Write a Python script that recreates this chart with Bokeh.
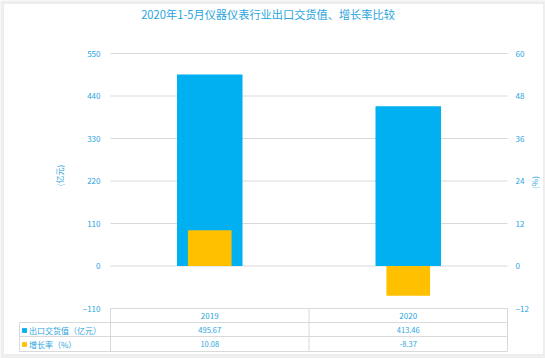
from math import pi
from bokeh.plotting import figure
from bokeh.models import (Range1d, LinearAxis, FixedTicker, Legend, LegendItem, Label,
                          BoxAnnotation)
from bokeh.core.properties import value
from bokeh.embed import file_html
from bokeh.resources import INLINE

# ---------------- data ----------------
years = ["2019", "2020"]
export_value = [495.67, 413.46]          # 出口交货值（亿元）
growth_rate = [10.08, -8.37]             # 增长率（%）
left_ticks = [-110, 0, 110, 220, 330, 440, 550]
right_ticks = [-12, 0, 12, 24, 36, 48, 60]
series_names = ["出口交货值（亿元）", "增长率（%）"]
title_text = "2020年1-5月仪器仪表行业出口交货值、增长率比较"
left_unit = "(亿元)"
right_unit = "(%)"

# ---------------- style / layout (canvas pixels) ----------------
FONT = "Noto Sans CJK SC"
TXT = "#2AA5DE"
BLUE = "#00B0F0"
ORANGE = "#FFC000"
GRID = "#D9D9D9"
W, H = 545, 358
PL, PR = 110, 507            # plot area left / right
PT, PB = 53, 308             # top tick / bottom tick
TBL_L = 19                   # table left edge
ROWS = [308, 322, 336, 351]  # table horizontal lines
L_MIN, L_MAX = left_ticks[0], left_ticks[-1]
R_MIN, R_MAX = right_ticks[0], right_ticks[-1]
n = len(years)
kx = n / (PR - PL)
k1 = (L_MAX - L_MIN) / (PB - PT)
k2 = (R_MAX - R_MIN) / (PB - PT)


def dx(cx):
    return (cx - PL) * kx


def dy(cy):
    return L_MAX - (cy - PT) * k1


xs = [i + 0.5 for i in range(n)]

p = figure(width=W, height=H, output_backend="svg", toolbar_location=None,
           x_range=Range1d(dx(0), dx(W)), y_range=Range1d(dy(H), dy(0)),
           x_axis_location=None,
           min_border_left=0, min_border_right=0, min_border_top=0, min_border_bottom=0,
           outline_line_color=None, background_fill_color="#EFEFEF",
           border_fill_color="#EFEFEF")
p.extra_y_ranges = {"pct": Range1d(R_MAX - (H - PT) * k2, R_MAX + PT * k2)}
p.xgrid.visible = False
p.ygrid.visible = False

# chart area (white panel with light border)
p.add_layout(BoxAnnotation(left=3, right=543, bottom=H - 354, top=H - 3,
                           left_units="screen", right_units="screen",
                           bottom_units="screen", top_units="screen",
                           fill_color="white", fill_alpha=1, line_color="#D4D4D4",
                           line_width=1, level="underlay"))

# axes (labels pulled inside the canvas)
ya = p.yaxis[0]
ya.ticker = FixedTicker(ticks=left_ticks)
ra = LinearAxis(y_range_name="pct", ticker=FixedTicker(ticks=right_ticks))
p.add_layout(ra, "right")
for ax in (ya, ra):
    ax.axis_line_color = None
    ax.major_tick_line_color = None
    ax.minor_tick_line_color = None
    ax.major_tick_in = 0
    ax.major_tick_out = 0
    ax.minor_tick_in = 0
    ax.minor_tick_out = 0
    ax.major_label_text_color = TXT
    ax.major_label_text_font = FONT
    ax.major_label_text_font_size = "8px"
ya.major_label_standoff = -(PL - 10)
ra.major_label_standoff = -(W - PR - 8)

# grid lines
gt = left_ticks[1:]
p.segment(x0=[0] * len(gt), x1=[n] * len(gt), y0=gt, y1=gt, line_color=GRID, line_width=1)

# bars
b1 = p.vbar(x=xs, top=export_value, width=0.33, color=BLUE, line_color=None)
b2 = p.vbar(x=xs, top=growth_rate, width=0.22, color=ORANGE, line_color=None,
            y_range_name="pct")

# data table lines
hy = [dy(r) for r in ROWS]
p.segment(x0=[0] + [dx(TBL_L)] * 3, x1=[n] * 4, y0=hy, y1=hy, line_color=GRID)
vx = [dx(TBL_L)] + list(range(n + 1))
vy0 = [dy(ROWS[1])] + [dy(ROWS[0])] * (n + 1)
p.segment(x0=vx, x1=vx, y0=vy0, y1=[dy(ROWS[3])] * len(vx), line_color=GRID)

# table texts
hdr_y = dy((ROWS[0] + ROWS[1]) / 2)
r1_y = dy((ROWS[1] + ROWS[2]) / 2)
r2_y = dy((ROWS[2] + ROWS[3]) / 2)
common = dict(text_align="center", text_baseline="middle", text_font=value(FONT),
              text_color=TXT)
p.text(x=xs, y=[hdr_y] * n, text=years, text_font_size="8px", **common)
p.text(x=xs, y=[r1_y] * n, text=[f"{v:.2f}" for v in export_value],
       text_font_size="7.5px", **common)
p.text(x=xs, y=[r2_y] * n, text=[f"{v:.2f}" for v in growth_rate],
       text_font_size="7.5px", **common)

# legend = table left column
leg = Legend(items=[LegendItem(label=series_names[0], renderers=[b1]),
                    LegendItem(label=series_names[1], renderers=[b2])],
             location=(TBL_L + 2, H - ROWS[3]), orientation="vertical",
             glyph_width=6, glyph_height=6, label_height=14, label_standoff=2,
             spacing=0, padding=0, margin=0,
             label_text_font=FONT, label_text_font_size="8px", label_text_color=TXT,
             border_line_color=None, background_fill_alpha=0)
p.add_layout(leg, "center")

# title and axis titles
p.add_layout(Label(x=267.5, y=H - 13, x_units="screen", y_units="screen", text=title_text,
                   text_align="center", text_baseline="middle", text_font=FONT,
                   text_font_size="11.2px", text_color=TXT))
p.add_layout(Label(x=59, y=H - 175, x_units="screen", y_units="screen", text=left_unit,
                   angle=pi / 2, text_align="center", text_baseline="middle",
                   text_font=FONT, text_font_size="8px", text_color=TXT))
p.add_layout(Label(x=534, y=H - 182, x_units="screen", y_units="screen", text=right_unit,
                   angle=pi / 2, text_align="center", text_baseline="middle",
                   text_font=FONT, text_font_size="8px", text_color=TXT))

open("out.html", "w").write(file_html(p, INLINE))
